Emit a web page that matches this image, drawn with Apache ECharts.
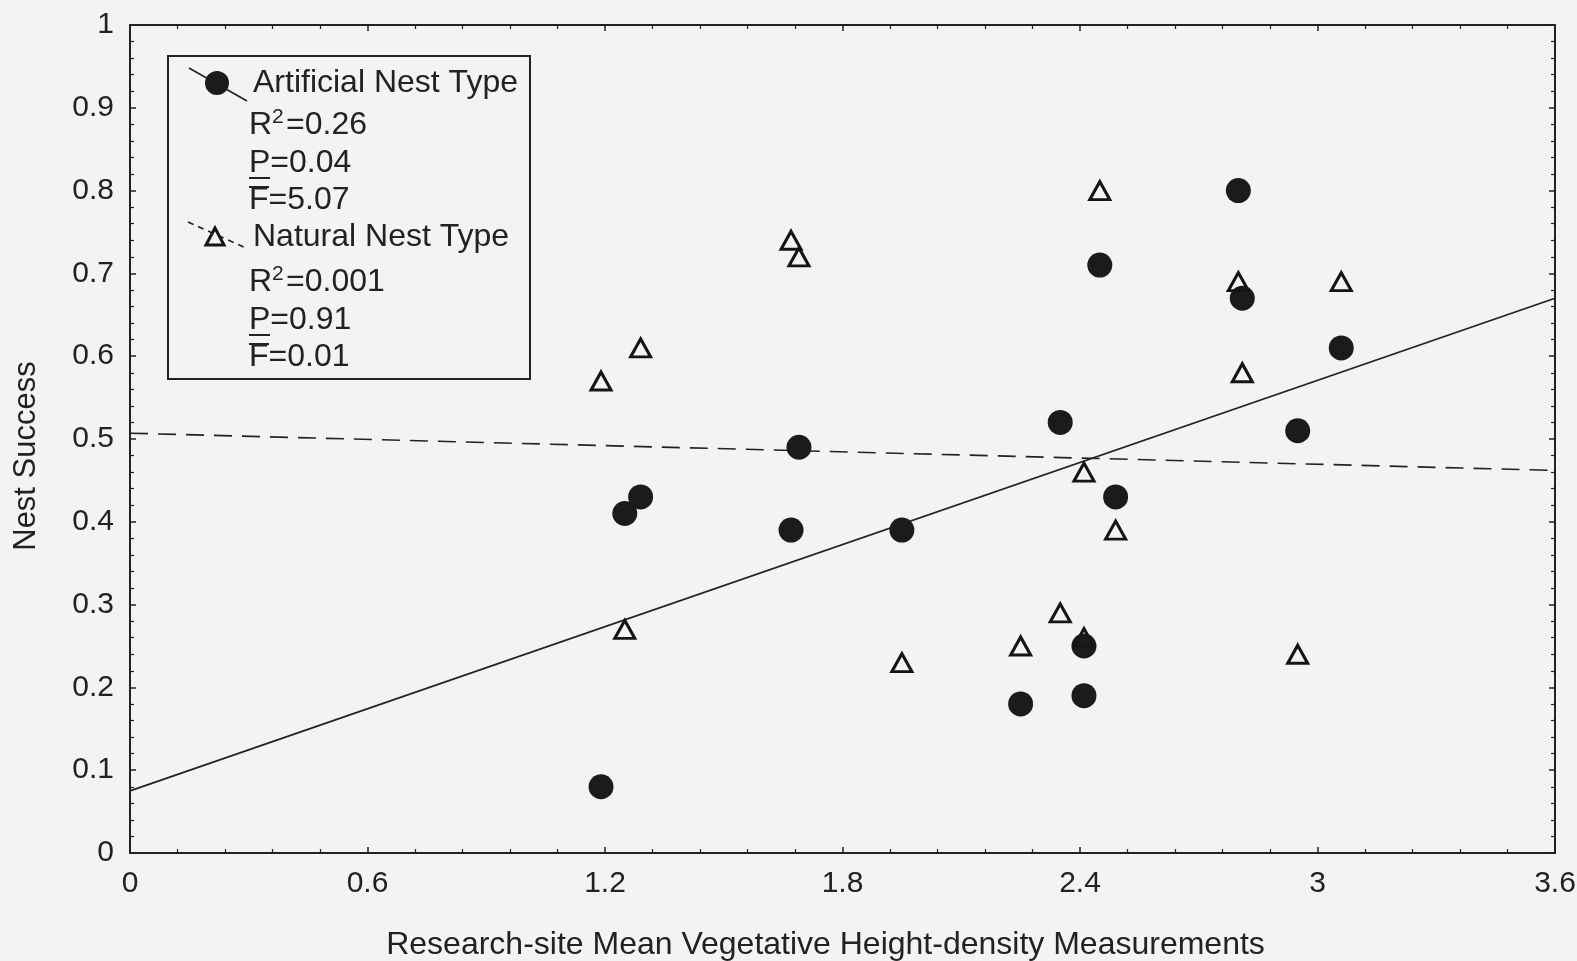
<!DOCTYPE html>
<html>
<head>
<meta charset="utf-8">
<script src="https://cdn.jsdelivr.net/npm/echarts@6/dist/echarts.min.js"></script>
<style>
  html, body { margin: 0; padding: 0; background: #f3f3f3; }
  #chart { width: 1577px; height: 961px; }
</style>
</head>
<body>
<div id="chart"></div>
<script>
// artificial nests (filled circles)
let artificial_x = [1.19, 1.25, 1.29, 1.67, 1.69, 1.95, 2.25, 2.35, 2.41, 2.41, 2.45, 2.49, 2.80, 2.81, 2.95, 3.06]
let artificial_y = [0.08, 0.41, 0.43, 0.39, 0.49, 0.39, 0.18, 0.52, 0.25, 0.19, 0.71, 0.43, 0.80, 0.67, 0.51, 0.61]
// natural nests (open triangles)
let natural_x = [1.19, 1.25, 1.29, 1.67, 1.69, 1.95, 2.25, 2.35, 2.41, 2.41, 2.45, 2.49, 2.80, 2.81, 2.95, 3.06]
let natural_y = [0.57, 0.27, 0.61, 0.74, 0.72, 0.23, 0.25, 0.29, 0.46, 0.26, 0.80, 0.39, 0.69, 0.58, 0.24, 0.69]
// regression line end points, read at x = 0 and x = 3.6
let fit_x = [0, 3.6]
let artificial_fit_y = [0.075, 0.67]
let natural_fit_y = [0.507, 0.462]

let x_ticks = { min: 0, max: 3.6, interval: 0.6 }
let y_ticks = { min: 0, max: 1, interval: 0.1 }

const ink = '#222'
const font = '"Liberation Sans", Arial, sans-serif'

function pairs(xs, ys) {
  return xs.map((x, i) => [x, ys[i]])
}

function axis_common(show_label) {
  return {
    axisLine: { show: true, onZero: false, lineStyle: { color: ink, width: 2 } },
    axisTick: { show: true, inside: true, length: 6, lineStyle: { color: ink, width: 1.5 } },
    minorTick: { show: true, splitNumber: 5, length: 4, lineStyle: { color: ink, width: 1.2 } },
    splitLine: { show: false },
    axisLabel: {
      show: show_label,
      color: ink,
      fontFamily: 'Liberation Sans',
      fontSize: 30,
      margin: 16
    }
  }
}

function legend_text(x, y, text, size) {
  return {
    type: 'text',
    x: x,
    y: y,
    style: {
      text: text,
      fill: ink,
      font: (size || 32) + 'px ' + font,
      verticalAlign: 'middle'
    }
  }
}

function legend_rule(x1, x2, y) {
  return {
    type: 'line',
    shape: { x1: x1, y1: y, x2: x2, y2: y },
    style: { stroke: ink, lineWidth: 2 }
  }
}

function stat_block(top, r2, p, f) {
  return [
    legend_text(249, top, 'R'),
    legend_text(272, top - 8, '2', 21),
    legend_text(286, top, r2),
    legend_text(249, top + 38, 'P=' + p),
    legend_rule(249, 270, top + 53),
    legend_text(249, top + 75, 'F=' + f),
    legend_rule(249, 269, top + 62)
  ]
}

var myChart = echarts.init(document.querySelector('#chart'))
var option = {
  backgroundColor: '#f3f3f3',
  animation: false,
  grid: { left: 130, right: 22, top: 25, bottom: 108, outerBoundsMode: 'none', containLabel: false },
  xAxis: [
    Object.assign(axis_common(true), {
      type: 'value',
      min: x_ticks.min,
      max: x_ticks.max,
      interval: x_ticks.interval,
      position: 'bottom',
      name: 'Research-site Mean Vegetative Height-density Measurements',
      nameLocation: 'middle',
      nameGap: 76,
      nameTextStyle: { color: ink, fontFamily: 'Liberation Sans', fontSize: 32, padding: [0, 34, 0, 0] }
    }),
    Object.assign(axis_common(false), {
      type: 'value',
      min: x_ticks.min,
      max: x_ticks.max,
      interval: x_ticks.interval,
      position: 'top'
    })
  ],
  yAxis: [
    Object.assign(axis_common(true), {
      type: 'value',
      min: y_ticks.min,
      max: y_ticks.max,
      interval: y_ticks.interval,
      position: 'left',
      name: 'Nest Success',
      nameLocation: 'middle',
      nameGap: 88,
      nameRotate: 90,
      nameTextStyle: { color: ink, fontFamily: 'Liberation Sans', fontSize: 31, padding: [0, 34, 0, 0] }
    }),
    Object.assign(axis_common(false), {
      type: 'value',
      min: y_ticks.min,
      max: y_ticks.max,
      interval: y_ticks.interval,
      position: 'right'
    })
  ],
  series: [
    {
      name: 'Artificial fit',
      type: 'line',
      data: pairs(fit_x, artificial_fit_y),
      showSymbol: false,
      lineStyle: { color: ink, width: 1.8 },
      z: 1
    },
    {
      name: 'Natural fit',
      type: 'line',
      data: pairs(fit_x, natural_fit_y),
      showSymbol: false,
      lineStyle: { color: ink, width: 1.6, type: [18, 10] },
      z: 1
    },
    {
      name: 'Artificial Nest Type',
      type: 'scatter',
      data: pairs(artificial_x, artificial_y),
      symbol: 'circle',
      symbolSize: 25,
      itemStyle: { color: '#1b1b1b', opacity: 1 },
      z: 3
    },
    {
      name: 'Natural Nest Type',
      type: 'scatter',
      data: pairs(natural_x, natural_y),
      symbol: 'triangle',
      symbolSize: [20, 18],
      itemStyle: { color: 'rgba(0,0,0,0)', borderColor: '#151515', borderWidth: 3, opacity: 1 },
      z: 4
    }
  ],
  graphic: [
    {
      type: 'group',
      children: [
        {
          type: 'rect',
          shape: { x: 168, y: 56, width: 362, height: 323 },
          style: { fill: 'none', stroke: ink, lineWidth: 2 }
        },
        {
          type: 'line',
          shape: { x1: 189, y1: 68, x2: 247, y2: 101 },
          style: { stroke: ink, lineWidth: 1.6 }
        },
        {
          type: 'circle',
          shape: { cx: 217, cy: 83, r: 12 },
          style: { fill: '#1b1b1b' }
        },
        legend_text(253, 83, 'Artificial Nest Type'),
        {
          type: 'line',
          shape: { x1: 188, y1: 222, x2: 246, y2: 248 },
          style: { stroke: ink, lineWidth: 1.6, lineDash: [6, 5] }
        },
        {
          type: 'polygon',
          shape: { points: [[215, 228], [206, 245], [224, 245]] },
          style: { fill: '#f3f3f3', stroke: '#151515', lineWidth: 3 }
        },
        legend_text(253, 237, 'Natural Nest Type')
      ]
        .concat(stat_block(125, '=0.26', '0.04', '5.07'))
        .concat(stat_block(282, '=0.001', '0.91', '0.01'))
    }
  ]
}
myChart.setOption(option)
</script>
</body>
</html>
